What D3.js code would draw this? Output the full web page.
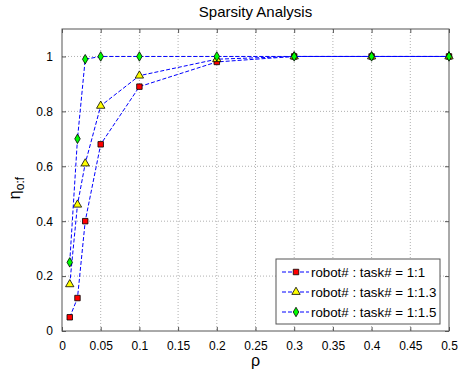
<!DOCTYPE html>
<meta charset="utf-8">
<style>
body { margin: 0; background: #fff; }
text { font-family: "Liberation Sans", Arial, sans-serif; fill: #000; }
.grid line { stroke: #b0b0b0; stroke-dasharray: 1,2; }
.line { fill: none; stroke: #0000ff; stroke-width: 1; stroke-dasharray: 4,2; }
</style>
<body>
<script src="https://d3js.org/d3.v7.min.js"></script>
<script>

// data
var rho = [0.01, 0.02, 0.03, 0.05, 0.1, 0.2, 0.3, 0.4, 0.5];
var ratio11  = [0.05, 0.12, 0.40, 0.68, 0.89, 0.98, 1.0, 1.0, 1.0];
var ratio113 = [0.17, 0.46, 0.61, 0.82, 0.93, 0.99, 1.0, 1.0, 1.0];
var ratio115 = [0.25, 0.70, 0.99, 1.0, 1.0, 1.0, 1.0, 1.0, 1.0];
var seriesNames = ["robot# : task# = 1:1", "robot# : task# = 1:1.3", "robot# : task# = 1:1.5"];
var xTicks = [0, 0.05, 0.1, 0.15, 0.2, 0.25, 0.3, 0.35, 0.4, 0.45, 0.5];
var yTicks = [0, 0.2, 0.4, 0.6, 0.8, 1];

var series = [
  {name: seriesNames[0], values: ratio11,  shape: d3.symbolSquare,   fill: "#ff0000", size: 30},
  {name: seriesNames[1], values: ratio113, shape: d3.symbolTriangle, fill: "#ffff00", size: 30},
  {name: seriesNames[2], values: ratio115, shape: d3.symbolDiamond,  fill: "#00ff00", size: 26}
];

var margin = {top: 29, right: 16, bottom: 41, left: 62},
    width = 465 - margin.left - margin.right,
    height = 372 - margin.top - margin.bottom;

var x = d3.scaleLinear().domain([0, 0.5]).range([0, width]);
var y = d3.scaleLinear().domain([0, 1.1]).range([height, 0]);

var svg = d3.select("body").append("svg")
    .attr("width", 465)
    .attr("height", 372)
  .append("g")
    .attr("transform", "translate(" + margin.left + "," + margin.top + ")");

// grid
svg.append("g").attr("class", "grid")
  .selectAll("line").data(xTicks.slice(1, -1)).enter().append("line")
    .attr("x1", function(d) { return x(d); }).attr("x2", function(d) { return x(d); })
    .attr("y1", 0).attr("y2", height);
svg.append("g").attr("class", "grid")
  .selectAll("line").data(yTicks.slice(1)).enter().append("line")
    .attr("x1", 0).attr("x2", width)
    .attr("y1", function(d) { return y(d); }).attr("y2", function(d) { return y(d); });

// box
svg.append("rect")
    .attr("width", width).attr("height", height)
    .attr("fill", "none").attr("stroke", "#555").attr("stroke-width", 1);

// axes with inward ticks
var fmt = function(d) { return d3.format("~g")(d); };
var xAxis = svg.append("g")
    .attr("transform", "translate(0," + height + ")")
    .call(d3.axisBottom(x).tickValues(xTicks).tickSize(-4).tickPadding(10).tickFormat(fmt));
var xTop = svg.append("g")
    .call(d3.axisTop(x).tickValues(xTicks).tickSize(-4).tickFormat(""));
var yAxis = svg.append("g")
    .call(d3.axisLeft(y).tickValues(yTicks).tickSize(-4).tickPadding(9).tickFormat(fmt));
var yRight = svg.append("g")
    .attr("transform", "translate(" + width + ",0)")
    .call(d3.axisRight(y).tickValues(yTicks).tickSize(-4).tickFormat(""));
[xAxis, xTop, yAxis, yRight].forEach(function(a) {
  a.select(".domain").remove();
  a.selectAll(".tick line").attr("stroke", "#555");
  a.selectAll("text").style("font-size", "12px").style("font-family", "Liberation Sans, Arial, sans-serif");
});

// lines and markers
var line = d3.line()
    .x(function(d, i) { return x(rho[i]); })
    .y(function(d) { return y(d); });

series.forEach(function(s) {
  svg.append("path")
      .datum(s.values)
      .attr("class", "line")
      .attr("d", line);
  svg.selectAll(null).data(s.values).enter().append("path")
      .attr("transform", function(d, i) { return "translate(" + x(rho[i]) + "," + y(d) + ")"; })
      .attr("d", d3.symbol().type(s.shape).size(s.size))
      .attr("fill", s.fill)
      .attr("stroke", "#000")
      .attr("stroke-width", 0.8);
});

// legend
var lg = svg.append("g").attr("transform", "translate(" + (276 - margin.left) + "," + (259 - margin.top) + ")");
lg.append("rect")
    .attr("width", 164).attr("height", 65)
    .attr("fill", "#fff").attr("stroke", "#555");
series.forEach(function(s, i) {
  var gy = 13 + i * 20;
  lg.append("line")
      .attr("x1", 6).attr("x2", 33).attr("y1", gy).attr("y2", gy)
      .attr("class", "line");
  lg.append("path")
      .attr("transform", "translate(20," + gy + ")")
      .attr("d", d3.symbol().type(s.shape).size(s.size))
      .attr("fill", s.fill).attr("stroke", "#000").attr("stroke-width", 0.8);
  lg.append("text")
      .attr("x", 35).attr("y", gy).attr("dy", "0.35em")
      .style("font-size", "13.3px")
      .text(s.name);
});

// title
svg.append("text")
    .attr("x", width / 2).attr("y", -12)
    .style("text-anchor", "middle")
    .style("font-size", "15px")
    .text("Sparsity Analysis");

// x label
svg.append("text")
    .attr("x", width / 2).attr("y", height + 35)
    .style("text-anchor", "middle")
    .style("font-size", "16px")
    .text("ρ");

// y label
var yl = svg.append("text")
    .attr("transform", "translate(" + (20 - margin.left) + "," + (188 - margin.top) + ") rotate(-90)")
    .style("text-anchor", "middle")
    .style("font-size", "16px");
yl.append("tspan").text("η");
yl.append("tspan").attr("dy", "4").style("font-size", "12px").text("o:f");

</script>
</body>
